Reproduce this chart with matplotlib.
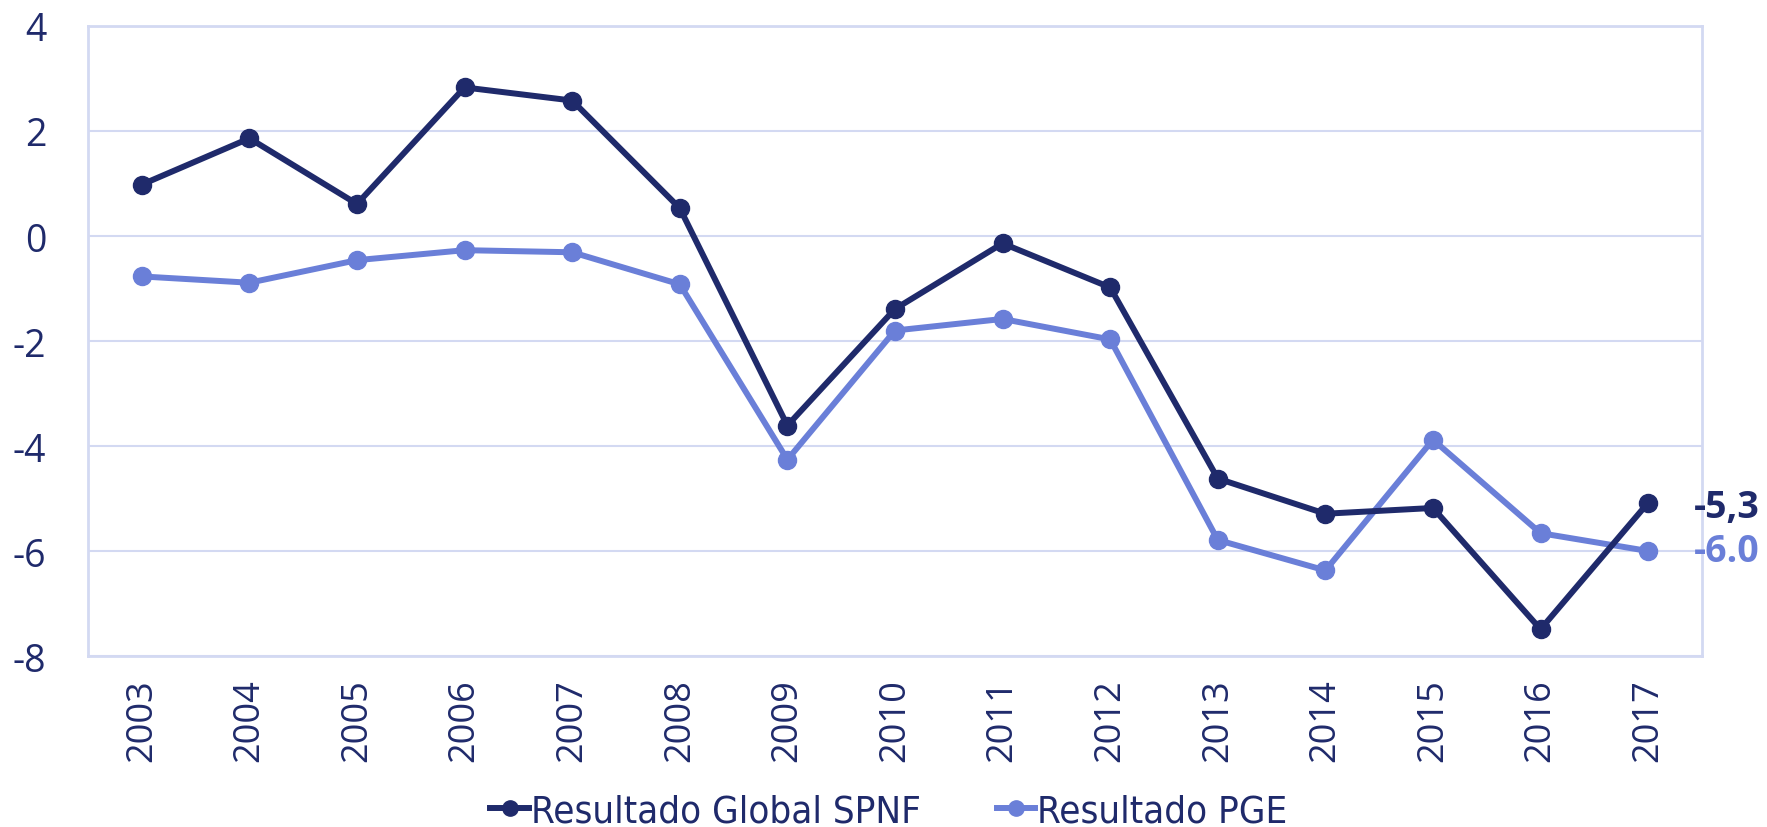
import matplotlib
matplotlib.use("Agg")
import matplotlib.pyplot as plt
from matplotlib.lines import Line2D

years = ["2003", "2004", "2005", "2006", "2007", "2008", "2009", "2010",
         "2011", "2012", "2013", "2014", "2015", "2016", "2017"]
spnf = [0.98, 1.86, 0.61, 2.83, 2.58, 0.53, -3.61, -1.39, -0.14, -0.98,
        -4.62, -5.29, -5.18, -7.49, -5.08]
pge = [-0.77, -0.89, -0.46, -0.27, -0.31, -0.92, -4.26, -1.80, -1.58, -1.97,
       -5.79, -6.37, -3.88, -5.66, -6.00]
series_names = ["Resultado Global SPNF", "Resultado PGE"]
end_labels = ["-5,3", "-6.0"]
yticks = [4, 2, 0, -2, -4, -6, -8]

dark = "#1f2a6b"
light = "#6a7fd8"
grid_c = "#d3d9f2"
tick_font = ["Open Sans", "DejaVu Sans"]

fig = plt.figure(figsize=(17.67, 8.28), dpi=100)
ax = fig.add_axes([0.0498, 0.2065, 0.9134, 0.7609])

x = list(range(len(years)))
ax.plot(x, spnf, color=dark, lw=4.3, marker="o", ms=13, zorder=3)
ax.plot(x, pge, color=light, lw=4.3, marker="o", ms=13, zorder=2)

ax.set_xlim(-0.5, len(years) - 0.5)
ax.set_ylim(-8, 4)
ax.set_yticks(yticks)
ax.set_yticklabels([str(v) for v in yticks])
ax.set_xticks(x)
ax.set_xticklabels(years, rotation=90)
ax.yaxis.grid(True, color=grid_c, lw=1.5)
ax.set_axisbelow(True)
for s in ax.spines.values():
    s.set_color(grid_c)
    s.set_linewidth(2)
ax.tick_params(axis="both", length=0, colors=dark)
ax.tick_params(axis="y", pad=30, labelsize=27)
ax.tick_params(axis="x", pad=16, labelsize=26)
for lab in ax.get_xticklabels() + ax.get_yticklabels():
    lab.set_family(tick_font)

ax.annotate(end_labels[0], xy=(x[-1], spnf[-1]), xytext=(33, -3),
            textcoords="offset points", color=dark, fontsize=27,
            fontweight="bold", va="center", ha="left",
            family=tick_font, annotation_clip=False)
ax.annotate(end_labels[1], xy=(x[-1], pge[-1]), xytext=(33, 0),
            textcoords="offset points", color=light, fontsize=27,
            fontweight="bold", va="center", ha="left",
            family=tick_font, annotation_clip=False)

handles = [Line2D([], [], color=dark, lw=4.3, marker="o", ms=11),
           Line2D([], [], color=light, lw=4.3, marker="o", ms=11)]
leg = fig.legend(handles, series_names, loc="center", bbox_to_anchor=(0.503, 0.019),
                 ncol=2, frameon=False, handlelength=1.0, handletextpad=0.05,
                 columnspacing=2.0,
                 prop={"family": "DejaVu Sans", "stretch": "condensed", "size": 27.5})
for t in leg.get_texts():
    t.set_color(dark)

fig.savefig("out.png", dpi=100)
